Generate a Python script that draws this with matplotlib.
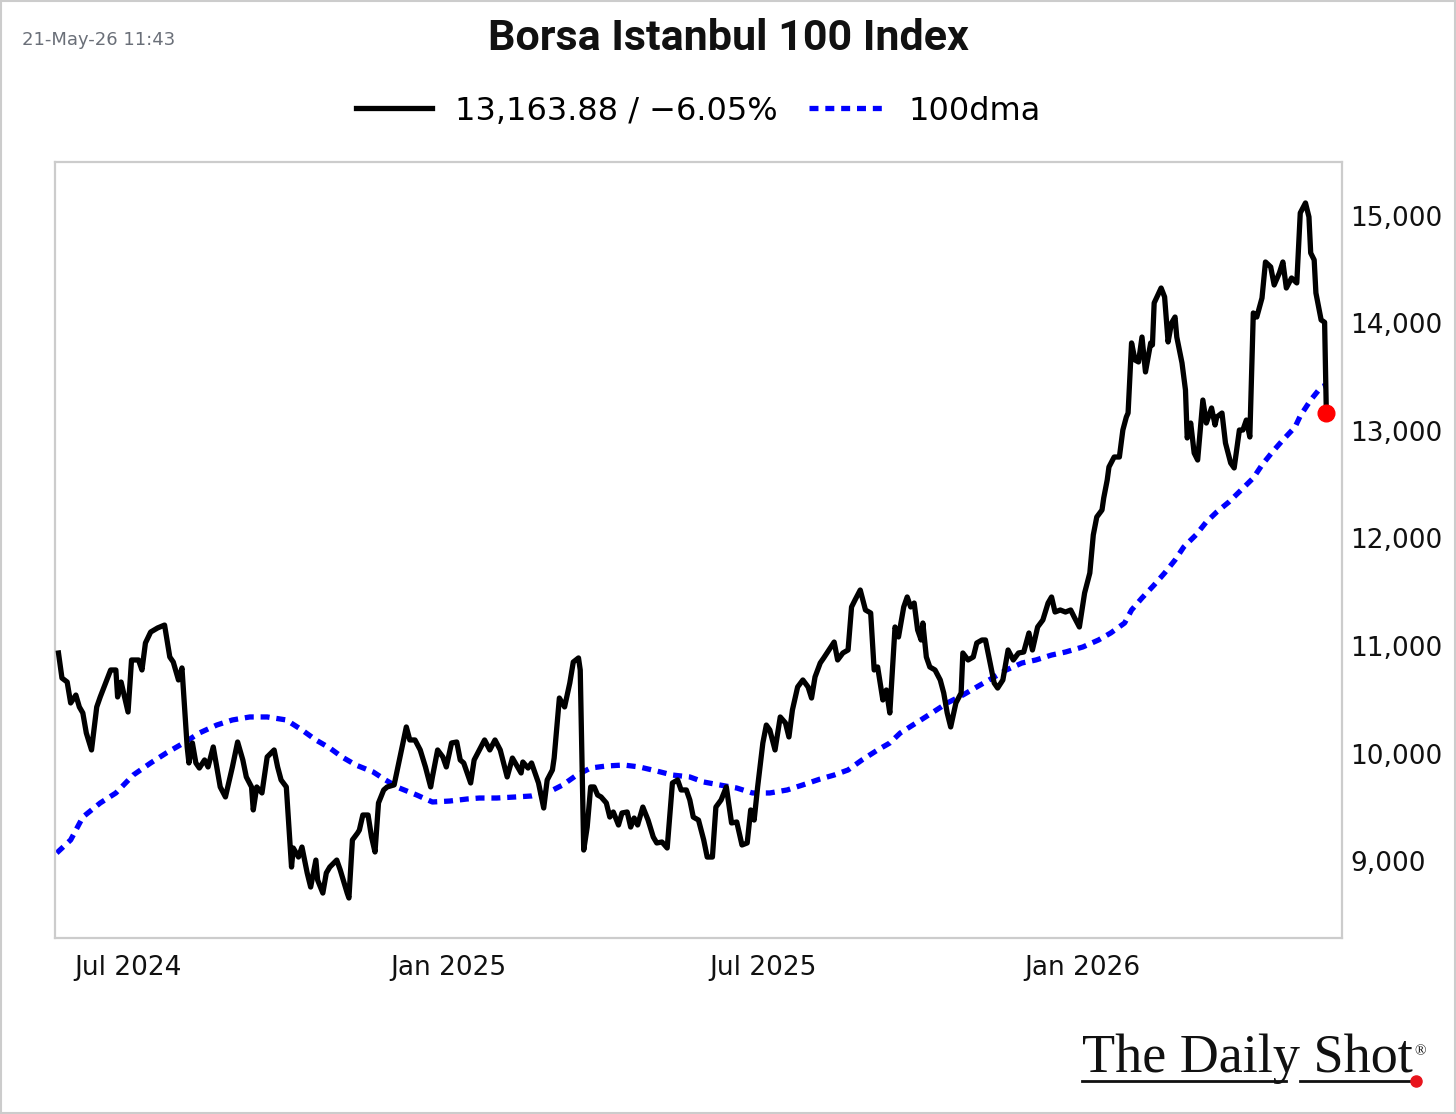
import matplotlib
matplotlib.use('Agg')
import matplotlib.pyplot as plt
from matplotlib.ticker import FuncFormatter
from matplotlib.lines import Line2D
from matplotlib.patches import Rectangle
import pandas as pd

# ---------------- data ----------------
index_dates = [
    '2024-05-22', '2024-05-24', '2024-05-27', '2024-05-29', '2024-06-01', '2024-06-03', '2024-06-05', '2024-06-07',
    '2024-06-10', '2024-06-13', '2024-06-15', '2024-06-21', '2024-06-24', '2024-06-25', '2024-06-27', '2024-07-01',
    '2024-07-03', '2024-07-07', '2024-07-09', '2024-07-11', '2024-07-14', '2024-07-18', '2024-07-22', '2024-07-25',
    '2024-07-27', '2024-07-30', '2024-08-01', '2024-08-04', '2024-08-05', '2024-08-07', '2024-08-09', '2024-08-11',
    '2024-08-14', '2024-08-16', '2024-08-19', '2024-08-21', '2024-08-23', '2024-08-26', '2024-08-30', '2024-09-02',
    '2024-09-05', '2024-09-07', '2024-09-10', '2024-09-11', '2024-09-13', '2024-09-16', '2024-09-19', '2024-09-23',
    '2024-09-25', '2024-09-27', '2024-09-30', '2024-10-03', '2024-10-04', '2024-10-07', '2024-10-09', '2024-10-12',
    '2024-10-14', '2024-10-17', '2024-10-18', '2024-10-21', '2024-10-23', '2024-10-25', '2024-10-29', '2024-10-31',
    '2024-11-04', '2024-11-05', '2024-11-07', '2024-11-10', '2024-11-11', '2024-11-13', '2024-11-16', '2024-11-18',
    '2024-11-20', '2024-11-22', '2024-11-25', '2024-11-27', '2024-12-01', '2024-12-04', '2024-12-08', '2024-12-10',
    '2024-12-13', '2024-12-16', '2024-12-19', '2024-12-22', '2024-12-23', '2024-12-26', '2024-12-29', '2024-12-31',
    '2025-01-03', '2025-01-06', '2025-01-08', '2025-01-10', '2025-01-14', '2025-01-16', '2025-01-19', '2025-01-22',
    '2025-01-25', '2025-01-28', '2025-01-31', '2025-02-04', '2025-02-07', '2025-02-10', '2025-02-12', '2025-02-13',
    '2025-02-16', '2025-02-18', '2025-02-20', '2025-02-22', '2025-02-25', '2025-02-27', '2025-03-02', '2025-03-03',
    '2025-03-06', '2025-03-09', '2025-03-12', '2025-03-14', '2025-03-17', '2025-03-18', '2025-03-20', '2025-03-22',
    '2025-03-24', '2025-03-26', '2025-03-28', '2025-03-30', '2025-04-02', '2025-04-04', '2025-04-06', '2025-04-09',
    '2025-04-11', '2025-04-14', '2025-04-16', '2025-04-18', '2025-04-20', '2025-04-23', '2025-04-26', '2025-04-29',
    '2025-05-01', '2025-05-04', '2025-05-07', '2025-05-10', '2025-05-13', '2025-05-15', '2025-05-18', '2025-05-20',
    '2025-05-22', '2025-05-25', '2025-05-28', '2025-05-30', '2025-06-02', '2025-06-04', '2025-06-07', '2025-06-10',
    '2025-06-13', '2025-06-16', '2025-06-19', '2025-06-22', '2025-06-24', '2025-06-26', '2025-06-28', '2025-07-01',
    '2025-07-03', '2025-07-05', '2025-07-08', '2025-07-11', '2025-07-14', '2025-07-16', '2025-07-18', '2025-07-21',
    '2025-07-24', '2025-07-27', '2025-07-29', '2025-07-31', '2025-08-03', '2025-08-05', '2025-08-08', '2025-08-11',
    '2025-08-13', '2025-08-16', '2025-08-19', '2025-08-21', '2025-08-23', '2025-08-26', '2025-08-29', '2025-09-01',
    '2025-09-03', '2025-09-05', '2025-09-08', '2025-09-10', '2025-09-12', '2025-09-15', '2025-09-17', '2025-09-20',
    '2025-09-22', '2025-09-24', '2025-09-26', '2025-09-28', '2025-09-30', '2025-10-01', '2025-10-03', '2025-10-05',
    '2025-10-08', '2025-10-11', '2025-10-13', '2025-10-15', '2025-10-17', '2025-10-20', '2025-10-23', '2025-10-24',
    '2025-10-27', '2025-10-30', '2025-11-01', '2025-11-04', '2025-11-06', '2025-11-08', '2025-11-11', '2025-11-13',
    '2025-11-16', '2025-11-19', '2025-11-22', '2025-11-25', '2025-11-28', '2025-12-01', '2025-12-03', '2025-12-06',
    '2025-12-09', '2025-12-12', '2025-12-14', '2025-12-16', '2025-12-19', '2025-12-22', '2025-12-25', '2025-12-27',
    '2025-12-30', '2026-01-02', '2026-01-05', '2026-01-07', '2026-01-09', '2026-01-12', '2026-01-13', '2026-01-15',
    '2026-01-16', '2026-01-19', '2026-01-22', '2026-01-24', '2026-01-26', '2026-01-27', '2026-01-29', '2026-01-31',
    '2026-02-02', '2026-02-04', '2026-02-06', '2026-02-09', '2026-02-10', '2026-02-11', '2026-02-15', '2026-02-17',
    '2026-02-19', '2026-02-21', '2026-02-23', '2026-02-24', '2026-02-27', '2026-03-01', '2026-03-02', '2026-03-04',
    '2026-03-06', '2026-03-08', '2026-03-11', '2026-03-13', '2026-03-16', '2026-03-18', '2026-03-19', '2026-03-22',
    '2026-03-24', '2026-03-27', '2026-03-29', '2026-04-01', '2026-04-03', '2026-04-05', '2026-04-07', '2026-04-09',
    '2026-04-11', '2026-04-14', '2026-04-16', '2026-04-19', '2026-04-21', '2026-04-24', '2026-04-26', '2026-04-28',
    '2026-05-01', '2026-05-04', '2026-05-06', '2026-05-09', '2026-05-11', '2026-05-12', '2026-05-14', '2026-05-15',
    '2026-05-18', '2026-05-20', '2026-05-21',
]
index_values = [
    10935, 10702, 10665, 10470, 10544, 10433, 10377, 10191,
    10033, 10433, 10526, 10777, 10777, 10526, 10665, 10386,
    10870, 10870, 10777, 11028, 11130, 11168, 11195, 10898,
    10851, 10684, 10796, 10061, 9912, 10098, 9912, 9865,
    9940, 9875, 10061, 9875, 9689, 9596, 9875, 10107,
    9940, 9782, 9689, 9475, 9689, 9633, 9968, 10033,
    9875, 9754, 9689, 8944, 9121, 9037, 9130, 8889,
    8758, 9009, 8823, 8702, 8889, 8944, 9009, 8917,
    8702, 8656, 9196, 9261, 9288, 9428, 9428, 9223,
    9084, 9540, 9661, 9689, 9708, 9940, 10247, 10126,
    10126, 10033, 9875, 9689, 9782, 10033, 9968, 9875,
    10098, 10107, 9940, 9912, 9726, 9940, 10033, 10126,
    10033, 10126, 10033, 9782, 9958, 9875, 9819, 9921,
    9865, 9912, 9819, 9726, 9493, 9754, 9847, 9958,
    10516, 10433, 10656, 10851, 10889, 10777, 9102, 9316,
    9689, 9689, 9614, 9596, 9540, 9409, 9456, 9335,
    9447, 9456, 9316, 9400, 9335, 9502, 9381, 9223,
    9168, 9177, 9121, 9726, 9754, 9661, 9661, 9568,
    9409, 9381, 9196, 9037, 9037, 9502, 9568, 9689,
    9354, 9363, 9149, 9168, 9475, 9381, 9689, 10098,
    10265, 10219, 10033, 10340, 10284, 10154, 10405, 10619,
    10684, 10619, 10516, 10712, 10842, 10889, 10963, 11037,
    10870, 10935, 10963, 11363, 11428, 11521, 11335, 11307,
    10777, 10805, 10498, 10591, 10377, 11177, 11084, 11363,
    11456, 11363, 11400, 11149, 11056, 11214, 10898, 10805,
    10777, 10684, 10563, 10377, 10247, 10470, 10563, 10935,
    10870, 10898, 11028, 11056, 11056, 10898, 10656, 10609,
    10684, 10963, 10870, 10935, 10944, 11121, 10963, 11177,
    11242, 11400, 11456, 11316, 11335, 11316, 11335, 11270,
    11177, 11493, 11679, 12033, 12200, 12265, 12377, 12544,
    12665, 12758, 12758, 13009, 13130, 13167, 13819, 13660,
    13642, 13874, 13549, 13819, 13800, 14191, 14330, 14247,
    13828, 14005, 14060, 13874, 13633, 13381, 12935, 13074,
    12795, 12730, 13288, 13074, 13214, 13056, 13130, 13167,
    12888, 12702, 12656, 13009, 13009, 13102, 12944, 14098,
    14060, 14237, 14572, 14526, 14358, 14470, 14572, 14330,
    14423, 14377, 15028, 15121, 14991, 14656, 14591, 14284,
    14033, 14011, 13163.88,
]

dma_dates = [
    '2024-05-21', '2024-05-29', '2024-06-05', '2024-06-15', '2024-06-24', '2024-07-04', '2024-07-14', '2024-07-23',
    '2024-08-02', '2024-08-11', '2024-08-21', '2024-08-30', '2024-09-09', '2024-09-19', '2024-09-30', '2024-10-09',
    '2024-10-17', '2024-10-25', '2024-11-01', '2024-11-09', '2024-11-19', '2024-11-26', '2024-12-04', '2024-12-14',
    '2024-12-23', '2025-01-02', '2025-01-12', '2025-01-19', '2025-01-29', '2025-02-09', '2025-02-18', '2025-02-28',
    '2025-03-08', '2025-03-16', '2025-03-24', '2025-04-02', '2025-04-12', '2025-04-21', '2025-05-01', '2025-05-10',
    '2025-05-20', '2025-05-28', '2025-06-06', '2025-06-16', '2025-06-25', '2025-07-05', '2025-07-15', '2025-07-24',
    '2025-08-03', '2025-08-11', '2025-08-19', '2025-08-27', '2025-09-05', '2025-09-12', '2025-09-18', '2025-09-28',
    '2025-10-07', '2025-10-15', '2025-10-24', '2025-11-01', '2025-11-10', '2025-11-18', '2025-11-27', '2025-12-05',
    '2025-12-14', '2025-12-22', '2026-01-01', '2026-01-10', '2026-01-17', '2026-01-25', '2026-01-29', '2026-02-04',
    '2026-02-11', '2026-02-17', '2026-02-23', '2026-02-28', '2026-03-07', '2026-03-13', '2026-03-19', '2026-03-26',
    '2026-04-02', '2026-04-09', '2026-04-14', '2026-04-20', '2026-04-26', '2026-05-03', '2026-05-06', '2026-05-12',
    '2026-05-18', '2026-05-21',
]
dma_values = [
    9075, 9196, 9409, 9540, 9633, 9800, 9912, 10005,
    10098, 10191, 10265, 10312, 10340, 10340, 10312, 10219,
    10126, 10051, 9968, 9893, 9828, 9754, 9679, 9614,
    9549, 9558, 9577, 9586, 9586, 9596, 9605, 9642,
    9708, 9800, 9865, 9884, 9893, 9875, 9837, 9800,
    9782, 9735, 9708, 9679, 9633, 9633, 9661, 9708,
    9763, 9800, 9847, 9940, 10033, 10098, 10191, 10293,
    10386, 10470, 10544, 10619, 10702, 10777, 10842, 10870,
    10916, 10944, 10991, 11056, 11121, 11214, 11335, 11447,
    11568, 11679, 11800, 11921, 12033, 12154, 12247, 12340,
    12451, 12563, 12684, 12805, 12916, 13037, 13140, 13288,
    13409, 13428,
]

y_ticks = [9000, 10000, 11000, 12000, 13000, 14000, 15000]
x_tick_dates = ['2024-07-01', '2025-01-01', '2025-07-01', '2026-01-01']
x_tick_labels = ['Jul 2024', 'Jan 2025', 'Jul 2025', 'Jan 2026']
x_limits = ['2024-05-20', '2026-05-30']
y_limits = [8284, 15502]

title_text = 'Borsa Istanbul 100 Index'
index_label = '13,163.88 / \u22126.05%'
dma_label = '100dma'
timestamp_text = '21-May-26 11:43'
logo_text = 'The Daily Shot'

# ---------------- drawing ----------------
W, H = 1456, 1114
fig = plt.figure(figsize=(W / 100, H / 100), dpi=100)
fig.patch.set_facecolor('white')

ax = fig.add_axes([55 / W, 1 - 938 / H, (1342 - 55) / W, (938 - 162) / H])

idx_x = pd.to_datetime(index_dates)
dma_x = pd.to_datetime(dma_dates)
dotted = (0, (1.7, 1.3))

ax.plot(dma_x, dma_values, color='#0000ff', lw=3.8, linestyle=dotted, zorder=2)
ax.plot(idx_x, index_values, color='black', lw=3.8, zorder=3)
ax.plot(idx_x[-1:], index_values[-1:], 'o', color='#ff0000', ms=12, zorder=4)

ax.set_xlim(pd.to_datetime(x_limits[0]), pd.to_datetime(x_limits[1]))
ax.set_ylim(*y_limits)

ax.set_xticks(pd.to_datetime(x_tick_dates))
ax.set_xticklabels(x_tick_labels)
ax.set_yticks(y_ticks)
ax.yaxis.set_major_formatter(FuncFormatter(lambda v, p: f'{v:,.0f}'))
ax.yaxis.tick_right()
ax.tick_params(axis='y', length=0, pad=6, labelsize=19, labelcolor='#111111')
ax.tick_params(axis='x', length=0, pad=12, labelsize=19, labelcolor='#111111')

for s in ax.spines.values():
    s.set_color('#cccccc')
    s.set_linewidth(1.6)

# title & timestamp
fig.text(728 / W, 1 - 39 / H, title_text, ha='center', va='center', fontsize=31,
         fontweight='bold', family=['Roboto', 'DejaVu Sans'], color='#111111')
fig.text(22 / W, 1 - 40 / H, timestamp_text, ha='left', va='center', fontsize=13,
         color='#6a6f78')

# legend
handles = [Line2D([], [], color='black', lw=3.8),
           Line2D([], [], color='#0000ff', lw=3.8, linestyle=dotted)]
fig.legend(handles, [index_label, dma_label], loc='center',
           bbox_to_anchor=(698 / W, 1 - 111 / H), ncol=2, frameon=False,
           fontsize=23, handlelength=2.4, columnspacing=1.0, handletextpad=0.7)

# logo
fig.text(1082 / W, 1 - 1072 / H, logo_text, ha='left', va='baseline', fontsize=39,
         family=['Liberation Serif', 'DejaVu Serif'], color='#111111')
fig.text(1420 / W, 1 - 1052 / H, '\u00ae', ha='center', va='center', fontsize=11,
         family=['Liberation Serif', 'DejaVu Serif'], color='#111111')
fig.add_artist(Line2D([1082 / W, 1286 / W], [1 - 1081 / H] * 2, color='#111111', lw=2.0))
fig.add_artist(Line2D([1300 / W, 1412 / W], [1 - 1081 / H] * 2, color='#111111', lw=2.0))
fig.add_artist(Line2D([1416 / W], [1 - 1081 / H], marker='o', ms=8, color='#e8141c', lw=0))

# outer frame
fig.add_artist(Rectangle((0.0007, 0.0009), 0.9986, 0.9982, transform=fig.transFigure,
                         fill=False, edgecolor='#cccccc', lw=1.5))

fig.savefig('out.png', dpi=100)
